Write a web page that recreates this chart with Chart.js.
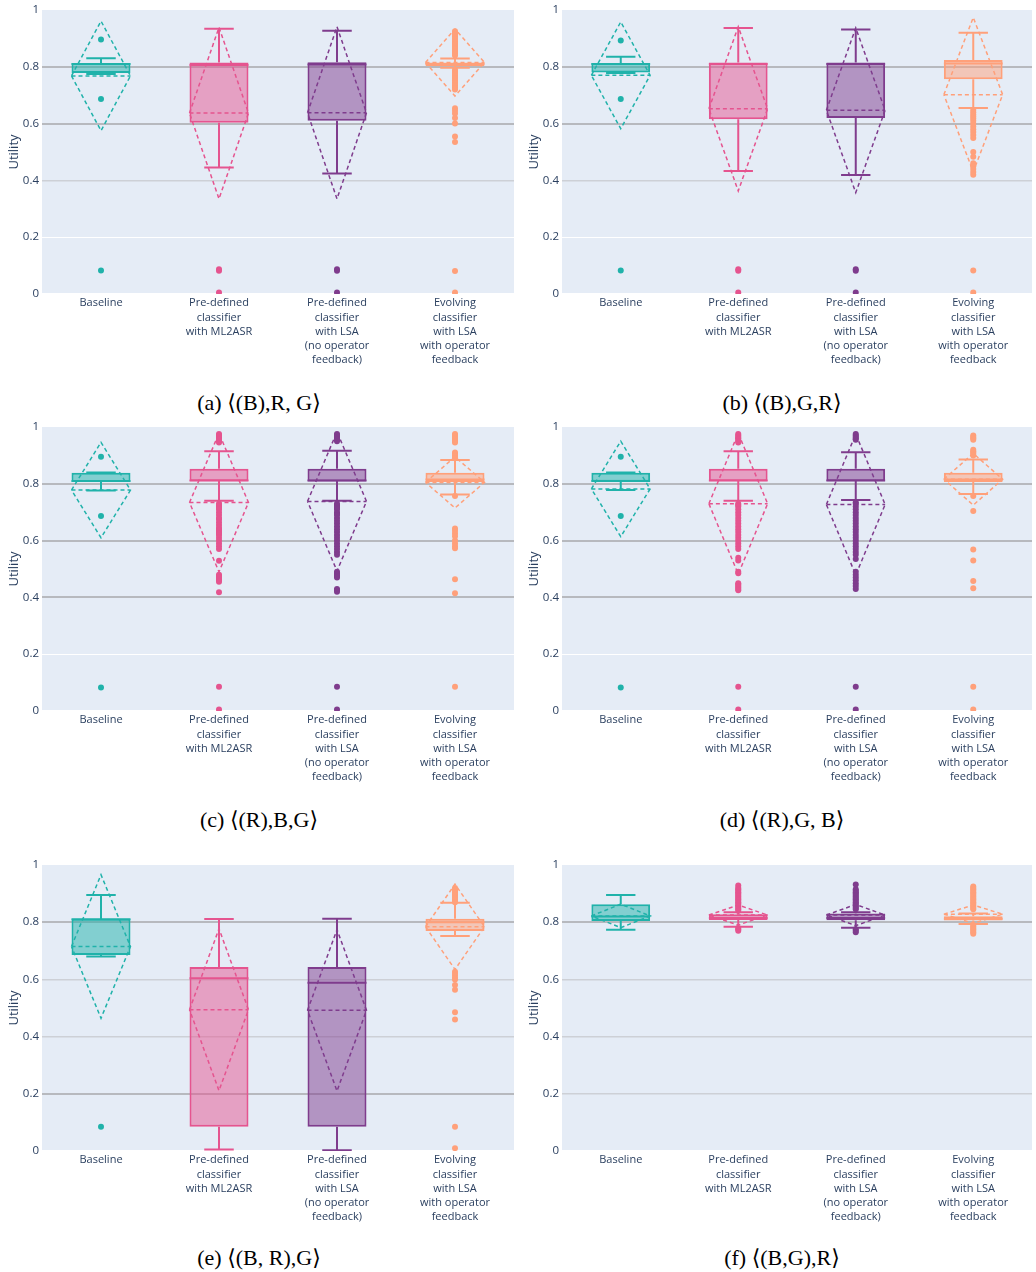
<!DOCTYPE html>
<html><head><meta charset="utf-8">
<script src="https://cdn.jsdelivr.net/npm/chart.js@4.4.1/dist/chart.umd.min.js"></script>
<style>
html,body{margin:0;padding:0;background:#fff;}
body{width:1036px;height:1272px;position:relative;overflow:hidden;}
canvas{position:absolute;}
.cap{position:absolute;text-align:center;font-family:'Liberation Serif','DejaVu Serif',serif;font-size:22px;color:#000;line-height:24px;white-space:nowrap;}
</style></head><body>
<script>
// ---------- DATA ----------
const tickLabels = [
  ["Baseline"],
  ["Pre-defined","classifier","with ML2ASR"],
  ["Pre-defined","classifier","with LSA","(no operator","feedback)"],
  ["Evolving","classifier","with LSA","with operator","feedback"]
];
const captions = ["(a) ⟨(B),R, G⟩","(b) ⟨(B),G,R⟩","(c) ⟨(R),B,G⟩","(d) ⟨(R),G, B⟩","(e) ⟨(B, R),G⟩","(f) ⟨(B,G),R⟩"];
const yTicks = [0, 0.2, 0.4, 0.6, 0.8, 1];

// per panel (a..f), per group (Baseline, ML2ASR, LSA, Evolving)
const q1 = [
  [0.778,0.603,0.610,0.803],
  [0.780,0.615,0.620,0.756],
  [0.806,0.809,0.808,0.806],
  [0.807,0.809,0.809,0.806],
  [0.685,0.085,0.085,0.769],
  [0.804,0.808,0.807,0.806]
];
const medians = [
  [0.810,0.806,0.808,0.810],
  [0.810,0.810,0.810,0.812],
  [0.810,0.812,0.812,0.815],
  [0.810,0.812,0.812,0.815],
  [0.810,0.604,0.588,0.800],
  [0.820,0.815,0.815,0.812]
];
const q3 = [
  [0.813,0.815,0.816,0.815],
  [0.813,0.815,0.815,0.824],
  [0.839,0.853,0.853,0.839],
  [0.839,0.853,0.853,0.839],
  [0.812,0.643,0.643,0.812],
  [0.863,0.828,0.830,0.821]
];
const lowerWhiskers = [
  [0.775,0.445,0.424,0.797],
  [0.778,0.433,0.419,0.655],
  [0.776,0.740,0.740,0.762],
  [0.778,0.740,0.743,0.764],
  [0.680,0.005,0.003,0.752],
  [0.774,0.784,0.781,0.794]
];
const upperWhiskers = [
  [0.830,0.934,0.927,0.829],
  [0.835,0.937,0.931,0.920],
  [0.840,0.915,0.916,0.884],
  [0.840,0.915,0.911,0.886],
  [0.895,0.811,0.812,0.868],
  [0.895,0.835,0.835,0.830]
];
const means = [
  [0.768,0.637,0.638,0.815],
  [0.770,0.652,0.647,0.702],
  [0.778,0.734,0.738,0.805],
  [0.782,0.730,0.727,0.816],
  [0.715,0.494,0.492,0.784],
  [0.822,0.825,0.825,0.828]
];
const sds = [
  [0.193,0.302,0.303,0.118],
  [0.188,0.289,0.290,0.272],
  [0.168,0.244,0.245,0.090],
  [0.168,0.248,0.248,0.091],
  [0.251,0.283,0.282,0.149],
  [0.041,0.035,0.037,0.032]
];
const outliers = [
  [ [0.896,0.687,0.083],
    [0.087,0.082,0.005],
    [0.087,0.082,0.005],
    [0.925,0.92,0.915,0.91,0.905,0.90,0.895,0.89,0.885,0.88,0.875,0.87,0.865,0.86,0.855,0.85,0.845,0.84,
     0.79,0.785,0.78,0.775,0.77,0.765,0.76,0.755,0.75,0.745,0.74,0.735,0.73,0.725,0.72,
     0.654,0.645,0.636,0.62,0.60,0.555,0.535,0.081,0.005] ],
  [ [0.893,0.687,0.083],
    [0.087,0.082,0.005],
    [0.087,0.082,0.005],
    [0.648,0.64,0.632,0.625,0.618,0.61,0.60,0.59,0.58,0.57,0.56,0.549,0.50,0.483,0.46,0.45,0.44,0.43,0.42,0.083,0.005] ],
  [ [0.895,0.687,0.083],
    [0.975,0.97,0.965,0.96,0.955,0.95,0.945,
     0.73,0.725,0.72,0.715,0.71,0.70,0.69,0.68,0.675,0.665,0.655,0.645,0.64,0.635,0.63,0.625,0.62,0.61,0.60,0.59,0.58,0.57,
     0.529,0.48,0.475,0.47,0.465,0.46,0.455,0.418,0.085,0.005],
    [0.975,0.97,0.965,0.96,0.955,0.95,
     0.73,0.725,0.72,0.715,0.71,0.70,0.695,0.69,0.68,0.67,0.66,0.65,0.64,0.63,0.62,0.61,0.60,0.59,0.58,0.57,0.56,0.55,
     0.49,0.485,0.48,0.475,0.47,0.43,0.425,0.42,0.085,0.005],
    [0.975,0.97,0.965,0.96,0.955,0.95,0.945,0.91,0.905,0.90,0.895,0.89,0.757,
     0.643,0.635,0.625,0.615,0.60,0.59,0.58,0.573,0.464,0.415,0.085] ],
  [ [0.895,0.687,0.083],
    [0.975,0.97,0.965,0.96,0.955,0.95,0.945,
     0.73,0.725,0.72,0.71,0.70,0.69,0.68,0.67,0.66,0.65,0.64,0.63,0.62,0.61,0.60,0.59,0.58,0.57,
     0.54,0.53,0.49,0.485,0.45,0.445,0.44,0.435,0.43,0.425,0.085,0.005],
    [0.975,0.97,0.965,0.96,0.955,
     0.735,0.73,0.72,0.71,0.70,0.69,0.68,0.67,0.66,0.65,0.64,0.63,0.62,0.61,0.60,0.59,0.58,0.57,0.56,0.55,0.535,
     0.49,0.48,0.47,0.46,0.45,0.44,0.43,0.085,0.005],
    [0.97,0.965,0.96,0.955,0.92,0.915,0.91,0.905,0.90,0.757,0.704,0.569,0.53,0.458,0.432,0.085,0.005] ],
  [ [0.085],
    [],
    [],
    [0.92,0.915,0.91,0.905,0.90,0.895,0.89,0.885,0.88,0.875,0.87,
     0.627,0.62,0.613,0.605,0.60,0.58,0.564,0.485,0.46,0.085,0.01] ],
  [ [],
    [0.928,0.92,0.915,0.91,0.905,0.90,0.895,0.89,0.885,0.88,0.875,0.87,0.865,0.86,0.855,0.85,0.845,0.84,0.78,0.775,0.77],
    [0.932,0.915,0.91,0.905,0.90,0.895,0.89,0.885,0.88,0.875,0.87,0.865,0.86,0.855,0.85,0.845,0.775,0.77,0.765],
    [0.925,0.92,0.915,0.91,0.905,0.90,0.895,0.89,0.885,0.88,0.875,0.87,0.865,0.86,0.855,0.85,0.845,
     0.79,0.785,0.78,0.775,0.77,0.765,0.76] ]
];

// ---------- STYLE / LAYOUT ----------
const groupColors = ['#20B2AA','#E5548F','#7F3C8D','#FFA07A'];
const fillColors = ['rgba(32,178,170,0.5)','rgba(229,84,143,0.5)','rgba(127,60,141,0.5)','rgba(255,160,122,0.5)'];
const panels = [
  {left:0,   top:0,   w:518, padR:2, plotH:284, capTop:391, capShift:0},
  {left:520, top:0,   w:516, padR:0, plotH:284, capTop:391, capShift:4},
  {left:0,   top:417, w:518, padR:2, plotH:284, capTop:808, capShift:0},
  {left:520, top:417, w:516, padR:0, plotH:284, capTop:808, capShift:4},
  {left:0,   top:855, w:518, padR:2, plotH:286, capTop:1246, capShift:0},
  {left:520, top:855, w:516, padR:0, plotH:286, capTop:1246, capShift:4}
];
// grid tone per y tick (0,0.2,...,1): z=zero line, w=white, l=light gray, d=dark gray, n=none
const gridTones = [
  ['z','w','l','d','d','n'],
  ['z','w','l','d','d','n'],
  ['z','w','d','d','d','n'],
  ['z','w','d','d','d','n'],
  ['z','d','l','l','d','n'],
  ['z','l','l','l','d','n']
];
const toneColor = {z:'#ffffff', w:'#ffffff', l:'#cdd0d6', d:'#b7b9be', n:'rgba(0,0,0,0)'};
const toneWidth = {z:2, w:1, l:1.5, d:2, n:0};
const TXT = '#2a3f5f';
const HALF = 0.25, CAP = 0.125;

const bgPlugin = {
  id:'plotBg',
  beforeDraw(chart){
    const a = chart.chartArea, c = chart.ctx;
    c.save(); c.fillStyle = '#E5ECF6'; c.fillRect(a.left, a.top, a.right-a.left, a.bottom-a.top); c.restore();
  }
};

panels.forEach((pp, p) => {
  const xAxisH = 86;
  const H = 10 + pp.plotH + xAxisH;
  const cv = document.createElement('canvas');
  cv.width = pp.w; cv.height = H;
  cv.style.left = pp.left + 'px'; cv.style.top = pp.top + 'px';
  cv.style.width = pp.w + 'px'; cv.style.height = H + 'px';
  document.body.appendChild(cv);

  const cap = document.createElement('div');
  cap.className = 'cap';
  cap.style.left = (pp.left + pp.capShift) + 'px'; cap.style.width = pp.w + 'px'; cap.style.top = pp.capTop + 'px';
  cap.textContent = captions[p];
  document.body.appendChild(cap);

  const datasets = [];
  datasets.push({
    type:'bar',
    data: q1[p].map((v,i)=>({x:i, y:[v, q3[p][i]]})),
    backgroundColor: fillColors, borderColor: groupColors, borderWidth:2, borderSkipped:false,
    barPercentage:0.5, categoryPercentage:1, order:4
  });
  for (let i=0;i<4;i++){
    const c = groupColors[i];
    const lw = lowerWhiskers[p][i], uw = upperWhiskers[p][i], a = q1[p][i], b = q3[p][i], md = medians[p][i];
    datasets.push({
      type:'line',
      data:[{x:i,y:b},{x:i,y:uw},{x:i,y:null},
            {x:i-CAP,y:uw},{x:i+CAP,y:uw},{x:i,y:null},
            {x:i,y:a},{x:i,y:lw},{x:i,y:null},
            {x:i-CAP,y:lw},{x:i+CAP,y:lw},{x:i,y:null},
            {x:i-HALF,y:md},{x:i+HALF,y:md}],
      borderColor:c, borderWidth:2, pointRadius:0, spanGaps:false, fill:false, tension:0, order:3
    });
    const m = means[p][i], s = sds[p][i];
    datasets.push({
      type:'line',
      data:[{x:i-HALF,y:m},{x:i,y:m+s},{x:i+HALF,y:m},{x:i,y:m-s},{x:i-HALF,y:m},{x:i,y:null},
            {x:i-HALF,y:m},{x:i+HALF,y:m}],
      borderColor:c, borderWidth:1.5, borderDash:[4,3], pointRadius:0, spanGaps:false, fill:false, tension:0, order:2
    });
    datasets.push({
      type:'line', showLine:false,
      data: outliers[p][i].map(v=>({x:i,y:v})),
      pointRadius:3, pointBackgroundColor:c, pointBorderWidth:0, pointBorderColor:c, order:1
    });
  }

  const tones = gridTones[p];
  const toneOf = v => tones[yTicks.findIndex(t => Math.abs(t - v) < 1e-6)] || 'n';

  new Chart(cv, {
    type:'line',
    data:{datasets},
    options:{
      responsive:false, animation:false, devicePixelRatio:1,
      layout:{padding:{top:10, right:pp.padR, left:0, bottom:0}},
      plugins:{legend:{display:false}, tooltip:{enabled:false}},
      scales:{
        x:{
          type:'linear', min:-0.5, max:3.5, offset:false,
          afterBuildTicks: sc => { sc.ticks = tickLabels.map((_,i)=>({value:i})); },
          afterFit: sc => { sc.height = xAxisH; },
          grid:{display:false, drawTicks:false}, border:{display:false},
          ticks:{autoSkip:false, maxRotation:0, padding:2, color:TXT,
            font:{family:'Open Sans', size:11, lineHeight:1.3},
            callback: v => tickLabels[Math.round(v)]}
        },
        y:{
          type:'linear', min:0, max:1,
          afterBuildTicks: sc => { sc.ticks = yTicks.map(v=>({value:v})); },
          afterFit: sc => { sc.width = 42; },
          grid:{drawTicks:false, color: ctx => toneColor[toneOf(ctx.tick.value)], lineWidth: ctx => toneWidth[toneOf(ctx.tick.value)]},
          border:{display:false},
          ticks:{padding:3, color:TXT, font:{family:'Open Sans', size:11.5},
            callback: v => String(Math.round(v*10)/10)},
          title:{display:true, text:'Utility', color:TXT, font:{family:'Open Sans', size:13}, padding:{top:6,bottom:0}}
        }
      }
    },
    plugins:[bgPlugin]
  });
});
</script>
</body></html>
